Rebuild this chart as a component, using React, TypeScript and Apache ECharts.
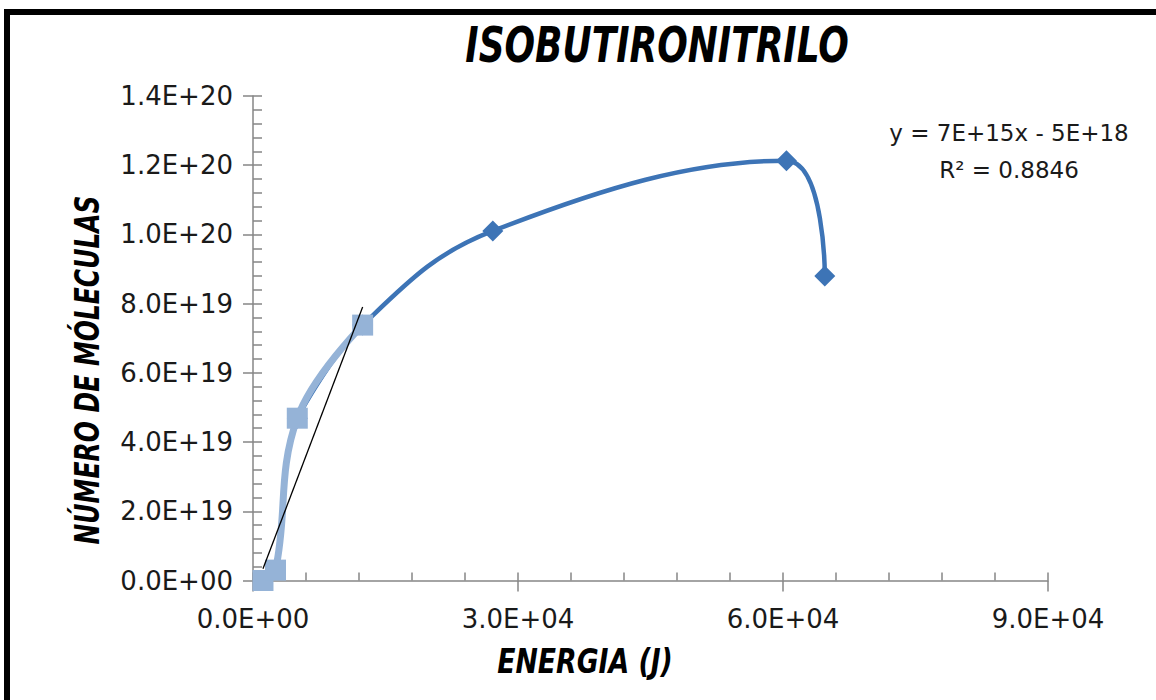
import React, { useEffect, useRef } from "react";
import * as echarts from "echarts";

// Energy (J) vs number of molecules
const seriesAX = [1130, 2546, 5013, 12413];
const seriesAY = [0, 3.0e18, 4.69e19, 7.38e19];
const seriesBX = [5013, 12413, 27150, 60390, 64730];
const seriesBY = [4.69e19, 7.38e19, 1.01e20, 1.213e20, 8.8e19];
const trendX = [1130, 12413];
const trendY = [3.4e18, 7.9e19];

const titleText = "ISOBUTIRONITRILO";
const xName = "ENERGIA (J)";
const yName = "NÚMERO DE MÓLECULAS";
const equationLines = ["y = 7E+15x - 5E+18", "R² = 0.8846"];

const X_MAX = 90000;
const X_STEP = 30000;
const Y_MAX = 1.4e20;
const Y_STEP = 2e19;

function sci(v: number): string {
  if (v === 0) return "0.0E+00";
  const [m, e] = v.toExponential(1).split("e");
  const n = parseInt(e, 10);
  return m + "E" + (n < 0 ? "-" : "+") + String(Math.abs(n)).padStart(2, "0");
}

const pairs = (xs: number[], ys: number[]) => xs.map((x, i) => [x, ys[i]]);

const axisGray = "#868686";
const labelFont = "DejaVu Sans";
const handFont = "'DejaVu Sans Condensed', 'DejaVu Sans'";

export default function App() {
  const ref = useRef<HTMLDivElement>(null);

  useEffect(() => {
    if (!ref.current) return;
    const chart = echarts.init(ref.current, undefined, { renderer: "svg" });

    const baseX = {
      type: "value" as const,
      min: 0,
      max: X_MAX,
      interval: X_STEP,
      position: "bottom" as const,
      splitLine: { show: false },
    };
    const baseY = {
      type: "value" as const,
      min: 0,
      max: Y_MAX,
      interval: Y_STEP,
      position: "left" as const,
      splitLine: { show: false },
    };

    chart.setOption({
      animation: false,
      backgroundColor: "#ffffff",
      grid: { left: 253, right: 108, top: 96, bottom: 119.5 },
      xAxis: [
        {
          ...baseX,
          axisLine: { show: true, lineStyle: { color: axisGray, width: 1.5 } },
          axisTick: { show: true, length: 11, lineStyle: { color: axisGray, width: 1.5 } },
          axisLabel: {
            formatter: sci,
            margin: 25,
            fontFamily: labelFont,
            fontSize: 26,
            color: "#1a1a1a",
          },
        },
        {
          ...baseX,
          axisLine: { show: false },
          axisLabel: { show: false },
          axisTick: { show: true, inside: true, length: 8, lineStyle: { color: axisGray, width: 1.5 } },
          minorTick: { show: true, splitNumber: 5, length: 8, lineStyle: { color: axisGray, width: 1.5 } },
        },
      ],
      yAxis: [
        {
          ...baseY,
          axisLine: { show: true, lineStyle: { color: axisGray, width: 1.5 } },
          axisTick: { show: true, length: 10, lineStyle: { color: axisGray, width: 1.5 } },
          axisLabel: {
            formatter: sci,
            margin: 20,
            fontFamily: labelFont,
            fontSize: 26,
            color: "#1a1a1a",
          },
        },
        {
          ...baseY,
          axisLine: { show: false },
          axisLabel: { show: false },
          axisTick: { show: true, inside: true, length: 9, lineStyle: { color: axisGray, width: 1.5 } },
          minorTick: { show: true, splitNumber: 5, length: 9, lineStyle: { color: axisGray, width: 1.5 } },
        },
      ],
      series: [
        {
          type: "line",
          xAxisIndex: 0,
          yAxisIndex: 0,
          data: pairs(seriesBX, seriesBY),
          smooth: 0.4,
          symbol: "diamond",
          symbolSize: 21,
          lineStyle: { color: "#3d74b6", width: 4.5 },
          itemStyle: { color: "#3d74b6" },
          z: 2,
        },
        {
          type: "line",
          xAxisIndex: 0,
          yAxisIndex: 0,
          data: pairs(seriesAX, seriesAY),
          smooth: 0.4,
          symbol: "rect",
          symbolSize: 21,
          lineStyle: { color: "#95b3d7", width: 7 },
          itemStyle: { color: "#95b3d7" },
          z: 3,
        },
        {
          type: "line",
          xAxisIndex: 0,
          yAxisIndex: 0,
          data: pairs(trendX, trendY),
          symbol: "none",
          lineStyle: { color: "#000000", width: 1.3 },
          z: 4,
        },
      ],
      graphic: [
        {
          type: "rect",
          shape: { x: 7, y: 12, width: 1300, height: 900 },
          style: { fill: "none", stroke: "#000000", lineWidth: 6 },
          silent: true,
        },
        {
          type: "text",
          x: 657,
          y: 45,
          scaleX: 0.85,
          scaleY: 1.05,
          style: {
            text: titleText,
            font: `italic bold 47px ${handFont}`,
            fill: "#000000",
            textAlign: "center",
            textVerticalAlign: "middle",
          },
        },
        {
          type: "text",
          x: 585,
          y: 661,
          scaleX: 0.9,
          style: {
            text: xName,
            font: `italic bold 33px ${handFont}`,
            fill: "#000000",
            textAlign: "center",
            textVerticalAlign: "middle",
          },
        },
        {
          type: "text",
          x: 88,
          y: 370,
          rotation: Math.PI / 2,
          scaleX: 0.84,
          style: {
            text: yName,
            font: `italic bold 33px ${handFont}`,
            fill: "#000000",
            textAlign: "center",
            textVerticalAlign: "middle",
          },
        },
        {
          type: "text",
          x: 1009,
          y: 133,
          style: {
            text: equationLines[0],
            font: `23px ${labelFont}`,
            fill: "#1a1a1a",
            textAlign: "center",
            textVerticalAlign: "middle",
          },
        },
        {
          type: "text",
          x: 1009,
          y: 170,
          style: {
            text: equationLines[1],
            font: `23px ${labelFont}`,
            fill: "#1a1a1a",
            textAlign: "center",
            textVerticalAlign: "middle",
          },
        },
      ],
    });

    return () => chart.dispose();
  }, []);

  return (
    <div
      ref={ref}
      style={{ position: "fixed", left: 0, top: 0, width: 1156, height: 700 }}
    />
  );
}
